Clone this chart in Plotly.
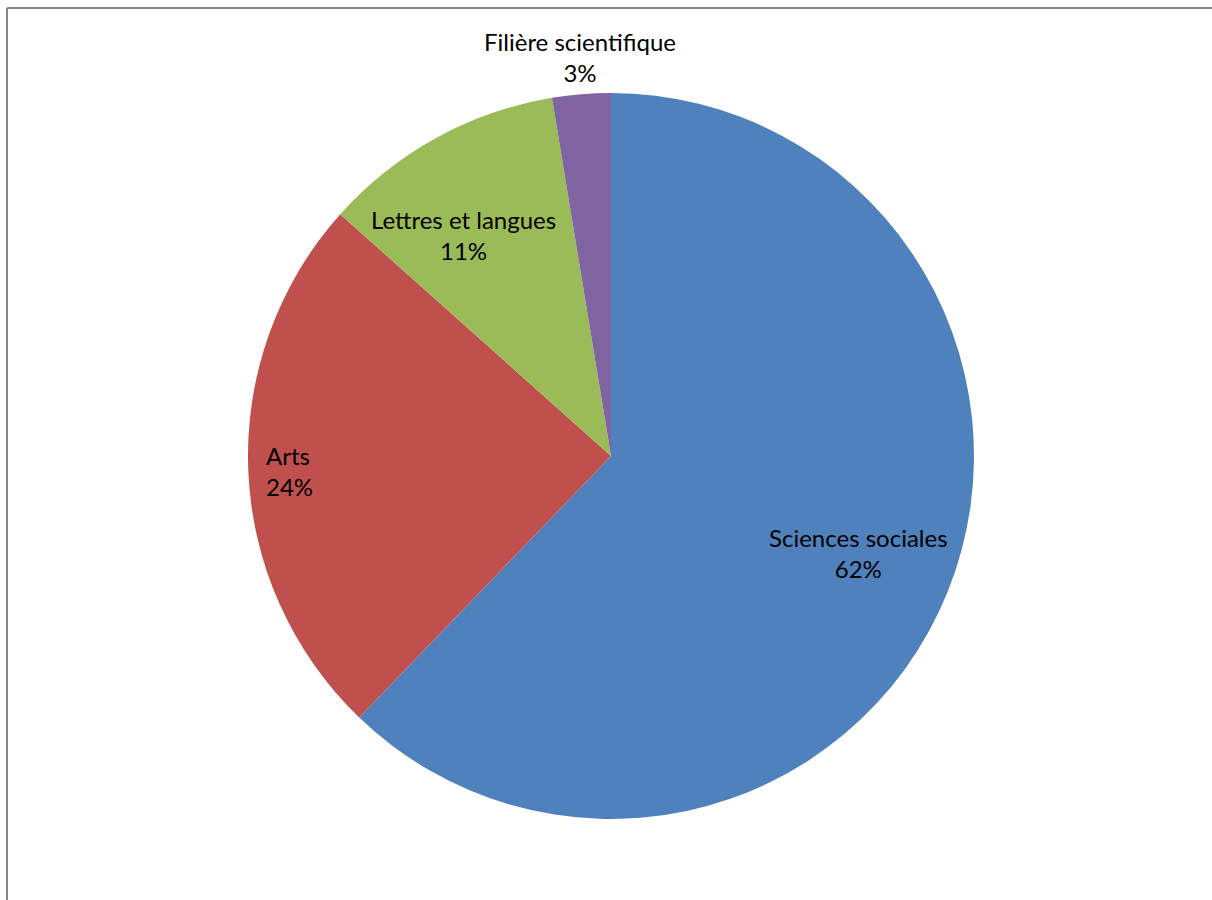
import plotly.graph_objects as go

categories = ["Sciences sociales", "Arts", "Lettres et langues", "Filière scientifique"]
values = [62.2, 24.4, 10.8, 2.6]
colors = ["#4F81BD", "#C0504D", "#9BBB59", "#8064A2"]

W, H = 1212, 900
cx, cy, r = 611, 456, 363

fig = go.Figure(go.Pie(
    labels=categories,
    values=values,
    sort=False,
    direction="clockwise",
    rotation=0,
    marker=dict(colors=colors, line=dict(width=0)),
    textinfo="none",
    hoverinfo="label+percent",
    showlegend=False,
    domain=dict(x=[(cx - r) / W, (cx + r) / W], y=[1 - (cy + r) / H, 1 - (cy - r) / H]),
))

total = sum(values)
pcts = [round(v / total * 100) for v in values]

# label anchor points (pixel coordinates of text block centres)
label_pos = [(858, 553), (289, 471), (463, 235), (580, 57)]
label_align = ["center", "left", "center", "center"]

for cat, p, (x, y), al in zip(categories, pcts, label_pos, label_align):
    fig.add_annotation(
        x=x / W, y=1 - y / H, xref="paper", yref="paper",
        text=f"{cat}<br>{p}%", showarrow=False, align=al,
        xanchor="center", yanchor="middle",
        font=dict(family="Lato, Carlito, Calibri, sans-serif", size=24, color="#000000"),
    )

# chart frame (top and left edges visible)
fig.add_shape(type="line", xref="paper", yref="paper", x0=7 / W, x1=1.02, y0=1 - 8 / H, y1=1 - 8 / H,
              line=dict(color="#868686", width=2))
fig.add_shape(type="line", xref="paper", yref="paper", x0=7 / W, x1=7 / W, y0=-0.02, y1=1 - 8 / H,
              line=dict(color="#868686", width=2))

fig.update_layout(
    width=W, height=H,
    margin=dict(l=0, r=0, t=0, b=0),
    paper_bgcolor="white",
    plot_bgcolor="white",
)

fig.write_html(
    "out.html",
    config={"displayModeBar": False},
    post_script="document.body.style.margin='0';document.body.style.overflow='hidden';",
)
